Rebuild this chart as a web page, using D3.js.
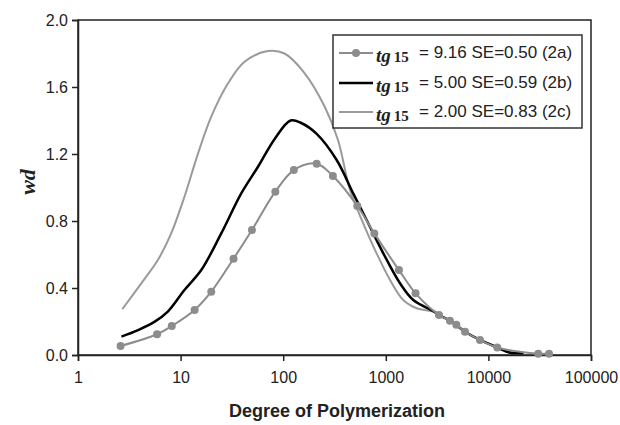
<!DOCTYPE html>
<html>
<head>
<meta charset="utf-8">
<script src="https://cdn.jsdelivr.net/npm/d3@7"></script>
<style>
  body { margin: 0; background: #fff; }
  svg { display: block; font-family: "Liberation Sans", Arial, sans-serif; }
</style>
</head>
<body>
<script>
// Series: [degree of polymerization, wd]
const series2a = [
  [2.6, 0.054], [5.9, 0.124], [8.2, 0.173], [13.7, 0.269], [19.9, 0.378],
  [32.8, 0.575], [49.6, 0.746], [83.8, 0.975], [127, 1.104], [212, 1.142],
  [305, 1.069], [528, 0.89], [773, 0.726], [1343, 0.507], [1950, 0.368],
  [3300, 0.239], [4220, 0.205], [4870, 0.18], [5920, 0.139], [8280, 0.09],
  [12200, 0.045], [30600, 0.008], [39000, 0.008]
];
const series2b = [
  [2.65, 0.11], [3.85, 0.149], [5.6, 0.199], [7.5, 0.259], [10.9, 0.388],
  [15.9, 0.507], [24.9, 0.726], [39, 0.965], [56.8, 1.124], [82.6, 1.29],
  [118, 1.40], [150, 1.385], [212, 1.32], [332, 1.164], [481, 0.965],
  [650, 0.806], [946, 0.607], [1375, 0.428], [1853, 0.328], [2900, 0.262],
  [3300, 0.239], [4220, 0.205], [5920, 0.139], [8280, 0.09], [12200, 0.045],
  [16000, 0.015], [22000, 0.01]
];
const series2c = [
  [2.7, 0.273], [4.14, 0.428], [6.0, 0.567], [8.1, 0.726], [10.9, 0.945],
  [14.8, 1.204], [19.9, 1.423], [29, 1.622], [42, 1.751], [71, 1.815],
  [103, 1.80], [162, 1.682], [254, 1.482], [342, 1.284], [448, 0.985],
  [603, 0.786], [813, 0.607], [1100, 0.448], [1480, 0.328], [2000, 0.279],
  [2900, 0.259], [3300, 0.239], [4220, 0.205], [5920, 0.139], [8280, 0.09],
  [12200, 0.045], [16000, 0.015], [22000, 0.01]
];
const xTicks = [1, 10, 100, 1000, 10000, 100000];
const yTicks = [0, 0.4, 0.8, 1.2, 1.6, 2.0];
const legendRows = [
  { text: "= 9.16 SE=0.50 (2a)", key: "2a" },
  { text: "= 5.00 SE=0.59 (2b)", key: "2b" },
  { text: "= 2.00 SE=0.83 (2c)", key: "2c" }
];

const W = 620, H = 425;
const margin = { top: 20, right: 29, bottom: 70, left: 78 };
const width = W - margin.left - margin.right,
      height = H - margin.top - margin.bottom;

const styles = {
  "2a": { stroke: "#8c8c8c", width: 2, marker: true },
  "2b": { stroke: "#000", width: 2.5, marker: false },
  "2c": { stroke: "#9a9a9a", width: 2, marker: false }
};

const svg = d3.select("body").append("svg")
    .attr("width", W)
    .attr("height", H);

const g = svg.append("g")
    .attr("transform", "translate(" + margin.left + "," + margin.top + ")");

const x = d3.scaleLog().domain([1, 100000]).range([0, width]);
const y = d3.scaleLinear().domain([0, 2]).range([height, 0]);

// frame
g.append("rect")
    .attr("width", width)
    .attr("height", height)
    .attr("fill", "none")
    .attr("stroke", "#222")
    .attr("stroke-width", 1.5);

// axes
const xAxis = g.append("g")
    .attr("transform", "translate(0," + height + ")")
    .call(d3.axisBottom(x).tickValues(xTicks).tickFormat(d3.format("d")).tickSize(6).tickPadding(11));
const yAxis = g.append("g")
    .call(d3.axisLeft(y).tickValues(yTicks).tickFormat(d3.format(".1f")).tickSize(6).tickPadding(4));

[xAxis, yAxis].forEach(a => {
  a.select(".domain").attr("stroke", "#222").attr("stroke-width", 1.5);
  a.selectAll(".tick line").attr("stroke", "#222").attr("stroke-width", 1.5);
  a.selectAll(".tick text")
      .attr("fill", "#222")
      .style("font-size", "16px")
      .style("font-family", "'Liberation Sans', Arial, sans-serif");
});

const line = d3.line()
    .x(d => x(d[0]))
    .y(d => y(d[1]))
    .curve(d3.curveCatmullRom.alpha(0.5));

const allSeries = [["2c", series2c], ["2b", series2b], ["2a", series2a]];
allSeries.forEach(([key, data]) => {
  const s = styles[key];
  g.append("path")
      .datum(data)
      .attr("d", line)
      .attr("fill", "none")
      .attr("stroke", s.stroke)
      .attr("stroke-width", s.width);
  if (s.marker) {
    g.selectAll(".m" + key)
        .data(data)
        .enter().append("circle")
        .attr("cx", d => x(d[0]))
        .attr("cy", d => y(d[1]))
        .attr("r", 4)
        .attr("fill", s.stroke);
  }
});

// axis titles
svg.append("text")
    .attr("x", 337)
    .attr("y", 417)
    .attr("text-anchor", "middle")
    .style("font-size", "18px")
    .style("font-weight", "bold")
    .attr("fill", "#222")
    .text("Degree of Polymerization");

svg.append("text")
    .attr("transform", "translate(35," + 182 + ") rotate(-90)")
    .attr("text-anchor", "middle")
    .style("font-family", "'Liberation Serif', 'DejaVu Serif', serif")
    .style("font-size", "22px")
    .style("font-weight", "bold")
    .style("font-style", "italic")
    .attr("fill", "#222")
    .text("wd");

// legend
const legend = svg.append("g");
legend.append("rect")
    .attr("x", 333).attr("y", 35)
    .attr("width", 249).attr("height", 93)
    .attr("fill", "#fff")
    .attr("stroke", "#333")
    .attr("stroke-width", 1.5);

const rowY = [53, 83, 112];
legendRows.forEach((r, i) => {
  const s = styles[r.key];
  const cy = rowY[i];
  legend.append("line")
      .attr("x1", 339).attr("x2", 373)
      .attr("y1", cy).attr("y2", cy)
      .attr("stroke", s.stroke)
      .attr("stroke-width", s.width);
  if (s.marker) {
    legend.append("circle")
        .attr("cx", 356).attr("cy", cy).attr("r", 4)
        .attr("fill", s.stroke);
  }
  const t = legend.append("text")
      .attr("x", 376)
      .attr("y", cy + 9)
      .attr("fill", "#222");
  t.append("tspan")
      .style("font-family", "'Liberation Serif', 'DejaVu Serif', serif")
      .style("font-size", "19px")
      .style("font-weight", "bold")
      .style("font-style", "italic")
      .text("tg");
  t.append("tspan")
      .attr("dx", 3)
      .style("font-family", "'Liberation Serif', 'DejaVu Serif', serif")
      .style("font-size", "15px")
      .style("font-weight", "bold")
      .text("15");
  legend.append("text")
      .attr("x", 419)
      .attr("y", cy + 5)
      .style("font-size", "17px")
      .attr("fill", "#222")
      .text(r.text);
});
</script>
</body>
</html>
